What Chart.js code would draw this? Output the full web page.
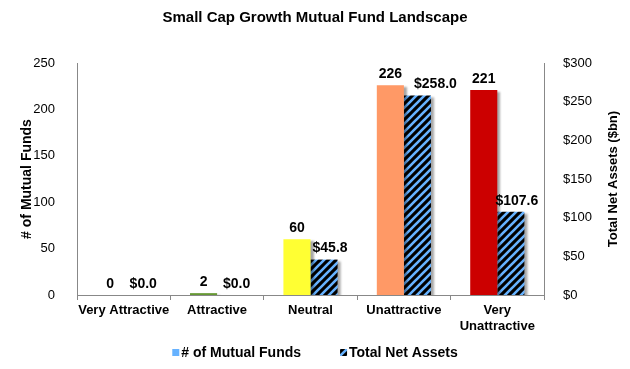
<!DOCTYPE html>
<html>
<head>
<title></title>
<script src="https://cdn.jsdelivr.net/npm/chart.js"></script>
<style>
  body { margin: 0; background: #fff; }
</style>
</head>
<body>
<canvas id="myChart" width="630" height="369"></canvas>
<script>
const categories = ['Very Attractive', 'Attractive', 'Neutral', 'Unattractive', ['Very', 'Unattractive']];
const fundCounts = [0, 2, 60, 226, 221];
const netAssets = [0.0, 0.0, 45.8, 258.0, 107.6];
const ratingColors = ['#006400', '#669933', '#FFFF33', '#FF9966', '#CC0000'];
const leftTicks = [0, 50, 100, 150, 200, 250];
const rightTicks = [0, 50, 100, 150, 200, 250, 300];
const seriesNames = ['# of Mutual Funds', 'Total Net Assets'];

const font = "'Liberation Sans', Arial, sans-serif";

function makeHatch() {
  const c = document.createElement('canvas');
  c.width = 8; c.height = 8;
  const g = c.getContext('2d');
  g.fillStyle = '#000';
  g.fillRect(0, 0, 8, 8);
  g.strokeStyle = '#66B2FF';
  g.lineWidth = 2.6;
  g.beginPath();
  g.moveTo(-2, 10); g.lineTo(10, -2);
  g.moveTo(-6, 6); g.lineTo(6, -6);
  g.moveTo(2, 14); g.lineTo(14, 2);
  g.stroke();
  return g.createPattern(c, 'repeat');
}
const hatch = makeHatch();

const shadowPlugin = {
  id: 'shadow',
  beforeDatasetDraw(chart) {
    const ctx = chart.ctx;
    ctx.save();
    ctx.shadowColor = 'rgba(0,0,0,0.35)';
    ctx.shadowOffsetX = 3;
    ctx.shadowOffsetY = 2;
    ctx.shadowBlur = 2;
  },
  afterDatasetDraw(chart) {
    chart.ctx.restore();
  }
};

const extrasPlugin = {
  id: 'extras',
  afterDraw(chart) {
    const ctx = chart.ctx;
    const area = chart.chartArea;
    ctx.save();
    // value labels; asset labels nudged right, further if they would hit the fund label
    ctx.font = 'bold 14px ' + font;
    ctx.fillStyle = '#000';
    ctx.textAlign = 'center';
    ctx.textBaseline = 'bottom';
    const fundBars = chart.getDatasetMeta(0).data;
    const assetBars = chart.getDatasetMeta(1).data;
    fundBars.forEach((bar, j) => {
      ctx.fillText(String(fundCounts[j]), bar.x, bar.y - 4);
    });
    assetBars.forEach((bar, j) => {
      const txt = '$' + netAssets[j].toFixed(1);
      const w = ctx.measureText(txt).width;
      let x = bar.x + 6;
      const fb = fundBars[j];
      const fw = ctx.measureText(String(fundCounts[j])).width;
      const fundRight = fb.x + fw / 2;
      if (Math.abs(fb.y - bar.y) < 16 && fb.y !== bar.y && x - w / 2 < fundRight + 10) {
        x = fundRight + 12 + w / 2;
      }
      ctx.fillText(txt, x, bar.y - 4);
    });
    // axis titles (both read bottom to top)
    const midY = (area.top + area.bottom) / 2;
    ctx.textBaseline = 'middle';
    ctx.font = 'bold 14px ' + font;
    ctx.save();
    ctx.translate(27, midY);
    ctx.rotate(-Math.PI / 2);
    ctx.fillText('# of Mutual Funds', 0, 0);
    ctx.restore();
    ctx.font = 'bold 13px ' + font;
    ctx.save();
    ctx.translate(613, midY);
    ctx.rotate(-Math.PI / 2);
    ctx.fillText('Total Net Assets ($bn)', 0, 0);
    ctx.restore();
    // legend
    ctx.font = 'bold 14px ' + font;
    ctx.textAlign = 'left';
    const box = 7, gapText = 2, gapItems = 39;
    const w0 = ctx.measureText(seriesNames[0]).width;
    const w1 = ctx.measureText(seriesNames[1]).width;
    const total = box + gapText + w0 + gapItems + box + gapText + w1;
    let x = (chart.width - total) / 2;
    const ly = 353;
    ctx.fillStyle = '#66B2FF';
    ctx.fillRect(x, ly - 4, box, box);
    ctx.fillStyle = '#000';
    ctx.fillText(seriesNames[0], x + box + gapText, ly);
    x += box + gapText + w0 + gapItems;
    ctx.fillStyle = hatch;
    ctx.fillRect(x, ly - 4, box, box);
    ctx.fillStyle = '#000';
    ctx.fillText(seriesNames[1], x + box + gapText, ly);
    ctx.restore();
  }
};

new Chart(document.getElementById('myChart'), {
  type: 'bar',
  data: {
    labels: categories,
    datasets: [{
      label: seriesNames[0],
      data: fundCounts,
      backgroundColor: ratingColors,
      yAxisID: 'y',
      categoryPercentage: 0.58,
      barPercentage: 1.0
    }, {
      label: seriesNames[1],
      data: netAssets,
      backgroundColor: hatch,
      yAxisID: 'y1',
      categoryPercentage: 0.58,
      barPercentage: 1.0
    }]
  },
  options: {
    responsive: false,
    animation: false,
    layout: { padding: { left: 0, right: 0, top: 0, bottom: 34 } },
    plugins: {
      title: {
        display: true,
        text: 'Small Cap Growth Mutual Fund Landscape',
        font: { family: font, size: 15, weight: 'bold' },
        color: '#000',
        padding: { top: 9, bottom: 36 }
      },
      legend: { display: false },
      tooltip: { enabled: false }
    },
    scales: {
      x: {
        afterFit(axis) { axis.height = 40; },
        grid: { display: true, drawOnChartArea: false, drawTicks: true, tickLength: 5, offset: true, color: '#888' },
        border: { color: '#888' },
        ticks: { font: { family: font, size: 13, weight: 'bold' }, color: '#000', maxRotation: 0, autoSkip: false, padding: 3 }
      },
      y: {
        position: 'left',
        min: 0,
        max: leftTicks[leftTicks.length - 1],
        afterFit(axis) { axis.width = 77; },
        afterBuildTicks(axis) { axis.ticks = leftTicks.map(v => ({ value: v })); },
        grid: { display: false },
        border: { color: '#888' },
        ticks: { font: { family: font, size: 13 }, color: '#000', padding: 14 }
      },
      y1: {
        position: 'right',
        min: 0,
        max: rightTicks[rightTicks.length - 1],
        afterFit(axis) { axis.width = 86; },
        afterBuildTicks(axis) { axis.ticks = rightTicks.map(v => ({ value: v })); },
        grid: { display: false },
        border: { color: '#888' },
        ticks: { font: { family: font, size: 13 }, color: '#000', padding: 11, callback: v => '$' + v }
      }
    }
  },
  plugins: [shadowPlugin, extrasPlugin]
});
</script>
</body>
</html>
